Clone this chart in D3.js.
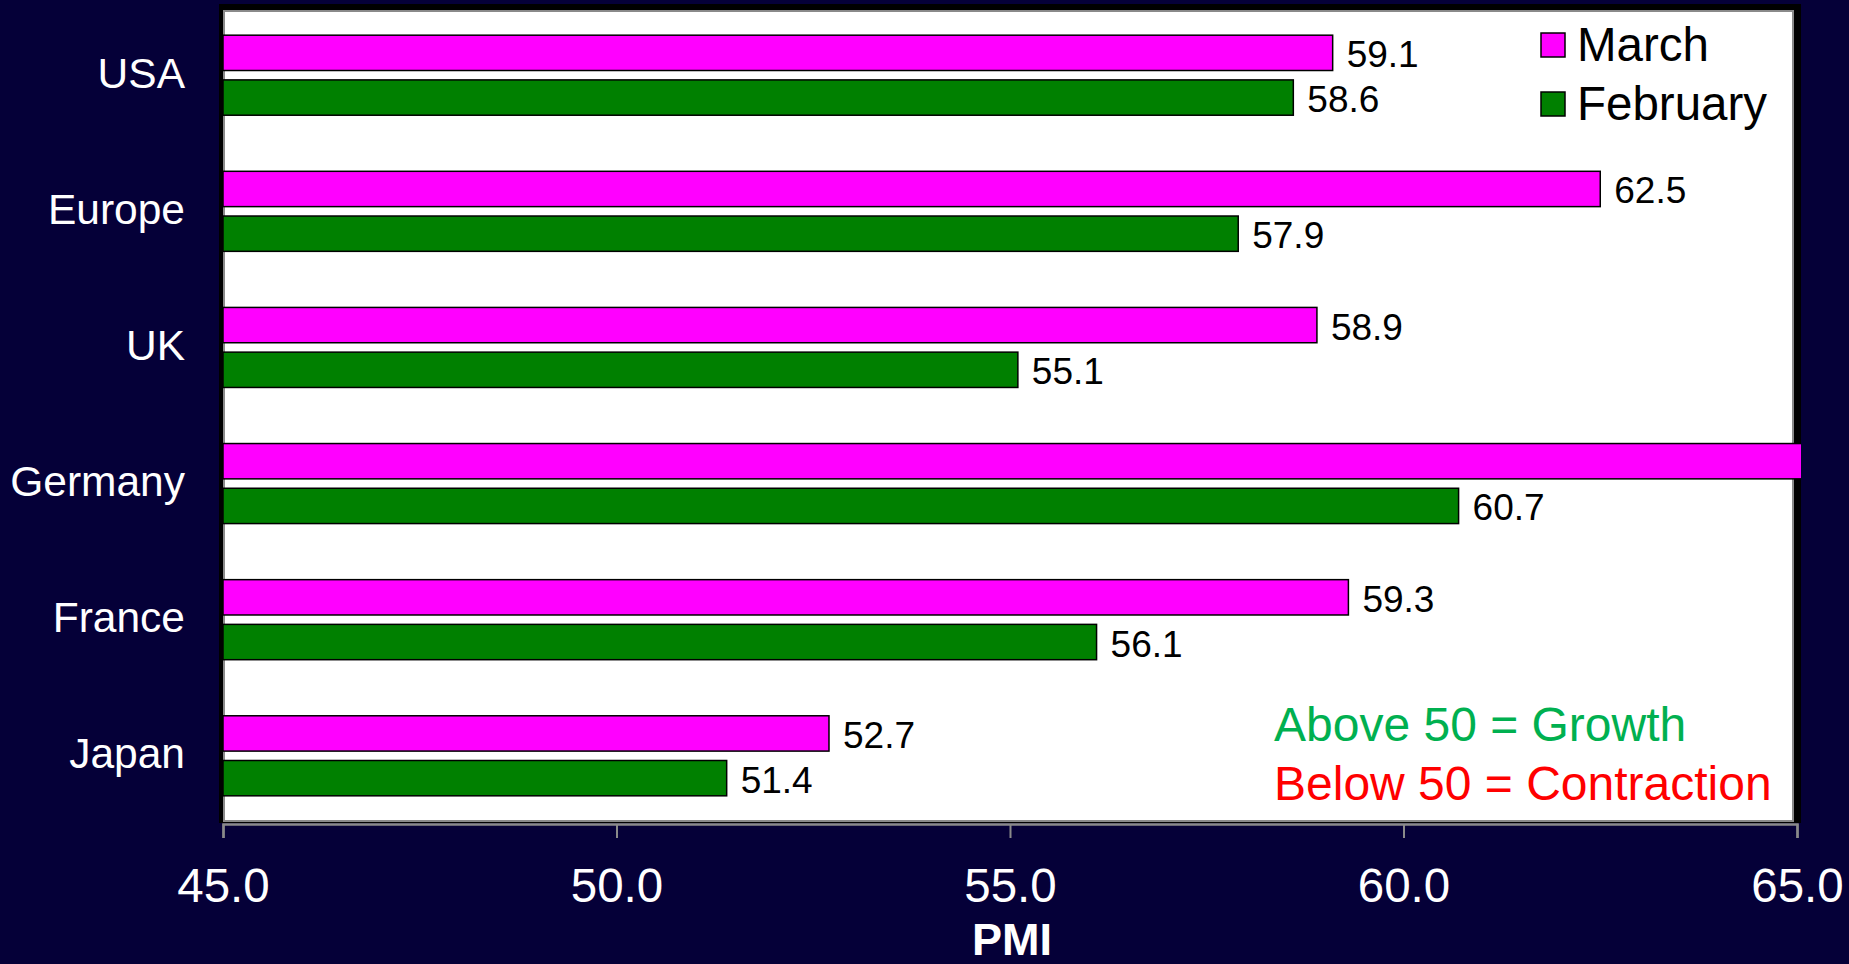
<!DOCTYPE html>
<html>
<head>
<meta charset="utf-8">
<script src="https://cdn.jsdelivr.net/npm/d3@7"></script>
<style>
  html, body { margin: 0; padding: 0; background: #050038; }
  svg { display: block; }
  text { font-family: "Liberation Sans", Arial, sans-serif; }
</style>
</head>
<body>
<svg id="chart" width="1849" height="964"></svg>
<script>
// PMI readings by region
const regions = ["USA", "Europe", "UK", "Germany", "France", "Japan"];
const seriesNames = ["March", "February"];
const march = [59.1, 62.5, 58.9, 65.6, 59.3, 52.7];
const february = [58.6, 57.9, 55.1, 60.7, 56.1, 51.4];
const xTicks = [45, 50, 55, 60, 65];
const seriesColors = ["#ff00ff", "#008000"];
const notes = [
  { text: "Above 50 = Growth", color: "#00b050" },
  { text: "Below 50 = Contraction", color: "#ff0000" }
];

const rows = regions.map((r, i) => ({
  region: r,
  values: [
    { series: "March", value: march[i] },
    { series: "February", value: february[i] }
  ]
}));

const svg = d3.select("#chart");
const W = 1849, H = 964;
const plot = { left: 223, right: 1797, top: 10, bottom: 821 };

svg.append("rect").attr("width", W).attr("height", H).attr("fill", "#050038");

const x = d3.scaleLinear().domain([45, 65]).range([plot.left, plot.right]);
const y0 = d3.scaleBand().domain(regions).range([plot.top, plot.bottom])
  .paddingInner(0.412).paddingOuter(0.185);
const y1 = d3.scaleBand().domain(seriesNames).range([0, y0.bandwidth()]).paddingInner(0.21);
const color = d3.scaleOrdinal().domain(seriesNames).range(seriesColors);

// plot frame: dark shadow behind a white panel
svg.append("rect")
  .attr("x", plot.left - 4).attr("y", plot.top - 6)
  .attr("width", plot.right - plot.left + 8).attr("height", plot.bottom - plot.top + 8)
  .attr("fill", "#000");
svg.append("rect")
  .attr("x", plot.left + 1).attr("y", plot.top + 1)
  .attr("width", plot.right - plot.left - 5).attr("height", plot.bottom - plot.top - 1)
  .attr("fill", "#fff").attr("stroke", "#8a8a8a").attr("stroke-width", 2);

svg.append("clipPath").attr("id", "plotClip")
  .append("rect")
  .attr("x", plot.left).attr("y", 0)
  .attr("width", plot.right - plot.left + 4).attr("height", H);

// bars
const groups = svg.append("g").attr("clip-path", "url(#plotClip)")
  .selectAll("g").data(rows).join("g")
  .attr("transform", d => `translate(0,${y0(d.region)})`);

groups.selectAll("rect").data(d => d.values).join("rect")
  .attr("x", x(45))
  .attr("y", d => y1(d.series))
  .attr("width", d => x(d.value) - x(45))
  .attr("height", y1.bandwidth())
  .attr("fill", d => color(d.series))
  .attr("stroke", "#000").attr("stroke-width", 1.5);

// value labels (hidden when the bar runs past the axis maximum)
const labelGroups = svg.append("g").selectAll("g").data(rows).join("g")
  .attr("transform", d => `translate(0,${y0(d.region)})`);
labelGroups.selectAll("text").data(d => d.values.filter(v => v.value <= x.domain()[1])).join("text")
  .attr("x", d => x(d.value) + 14)
  .attr("y", d => y1(d.series) + y1.bandwidth() / 2 + 14.5)
  .attr("font-size", 37)
  .attr("fill", "#000")
  .text(d => d.value.toFixed(1));

// region labels
svg.append("g").selectAll("text").data(regions).join("text")
  .attr("x", 185)
  .attr("y", d => y0(d) + y0.bandwidth() / 2 + 12.5)
  .attr("text-anchor", "end")
  .attr("font-size", 42.5)
  .attr("fill", "#fff")
  .text(d => d);

// x axis
const xAxis = svg.append("g").attr("transform", `translate(0,${plot.bottom + 3})`)
  .call(d3.axisBottom(x).tickValues(xTicks).tickFormat(d3.format(".1f")).tickSize(14).tickPadding(30));
xAxis.select(".domain").attr("stroke", "#8a8a8a").attr("stroke-width", 2.5);
xAxis.selectAll(".tick line").attr("stroke", "#8a8a8a").attr("stroke-width", 2);
xAxis.selectAll(".tick text")
  .attr("fill", "#fff").attr("font-size", 47.5)
  .attr("font-family", "'Liberation Sans', Arial, sans-serif");

svg.append("text")
  .attr("x", (plot.left + plot.right) / 2 + 2).attr("y", 955)
  .attr("text-anchor", "middle")
  .attr("font-size", 45).attr("font-weight", "bold").attr("fill", "#fff")
  .text("PMI");

// legend
const legend = svg.append("g").selectAll("g").data(seriesNames).join("g")
  .attr("transform", (d, i) => `translate(1541,${33 + i * 59})`);
legend.append("rect")
  .attr("width", 24).attr("height", 24)
  .attr("fill", d => color(d)).attr("stroke", "#000").attr("stroke-width", 1.5);
legend.append("text")
  .attr("x", 36).attr("y", 28)
  .attr("font-size", 47.5).attr("fill", "#000")
  .text(d => d);

// interpretation note
svg.append("g").selectAll("text").data(notes).join("text")
  .attr("x", 1274).attr("y", (d, i) => 741 + i * 59)
  .attr("font-size", 48).attr("fill", d => d.color)
  .text(d => d.text);
</script>
</body>
</html>
